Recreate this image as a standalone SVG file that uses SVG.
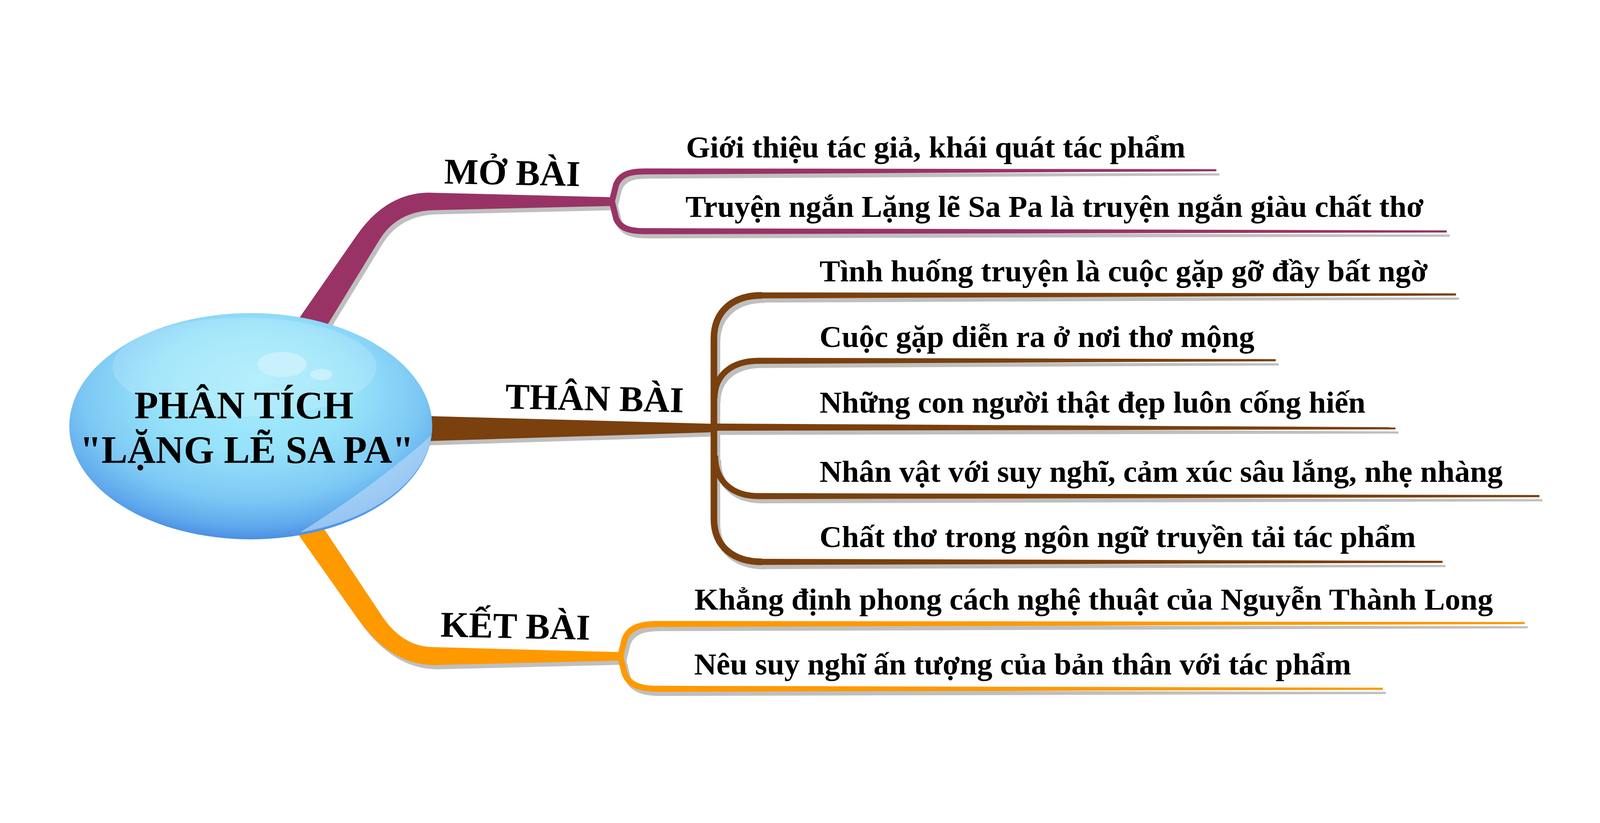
<svg xmlns="http://www.w3.org/2000/svg" xmlns:xlink="http://www.w3.org/1999/xlink" width="5334" height="2106" viewBox="0 0 5334 2106">
<style>
svg:root{width:100vw;height:100vh}
.t{font-family:"Liberation Serif","Times New Roman",serif;font-weight:bold;fill:#000}
.lf{font-size:103px}
.bl{font-size:121px}
.ct{font-size:130px}
.arm{fill:none;stroke-width:20;stroke-linejoin:round}
.nf{stroke:none}
</style>
<defs>
<radialGradient id="bub" cx="0.5" cy="0.38" r="0.62" fx="0.52" fy="0.3">
<stop offset="0" stop-color="#a8ecfd"/>
<stop offset="0.45" stop-color="#96e2fa"/>
<stop offset="0.75" stop-color="#7cc8f4"/>
<stop offset="0.92" stop-color="#5fa8ec"/>
<stop offset="1" stop-color="#4a8fe3"/>
</radialGradient>
<g id="moShape">
<path class="nf" d="M943,820 L1190,465 Q1291,320 1440,324 L2042,339 L2042,368 L1447,382 Q1324,385 1265,481 L1039,850 Z"/>
<path class="arm" d="M2040,353 L2054,297 C2068,262 2100,253 2150,253"/>
<path class="arm" d="M2040,353 L2054,410 C2068,444 2100,452 2150,452"/>
<path class="nf" d="M2148,243 L4055,245.5 L4055,252.5 L2148,263 Z"/>
<path class="nf" d="M2148,442 L4823,449.5 L4823,456.5 L2148,462 Z"/>
</g>
<g id="thShape">
<path class="nf" d="M1380,1067 L2380,1094 L2380,1122 L1380,1153 Z"/>
<path class="arm" style="stroke-width:22" d="M2380,1112 L2380,810 C2380,716 2446,666 2540,666"/>
<path class="arm" style="stroke-width:22" d="M2380,1100 L2380,1410 C2380,1504 2446,1554 2540,1554"/>
<path class="arm" d="M2382,1010 C2382,930 2440,884 2530,884"/>
<path class="arm" d="M2384,1200 C2384,1285 2440,1335 2530,1335"/>
<path class="nf" d="M2538,656 L4854,659.5 L4854,666.5 L2538,676 Z"/>
<path class="nf" d="M2528,874 L4253,878.5 L4253,885.5 L2528,894 Z"/>
<path class="nf" d="M2370,1093 L4652,1105.5 L4652,1112.5 L2370,1117 Z"/>
<path class="nf" d="M2528,1325 L5132,1331.5 L5132,1338.5 L2528,1345 Z"/>
<path class="nf" d="M2538,1544 L4809,1550.5 L4809,1557.5 L2538,1564 Z"/>
</g>
<g id="keShape">
<path class="nf" d="M1060,1414 L1270,1730 Q1340,1836 1440,1838 L2070,1855 L2070,1883 L1446,1898 Q1299,1896 1190,1740 L960,1414 Z"/>
<path class="arm" d="M2068,1869 L2082,1813 C2095,1776 2130,1761 2190,1761"/>
<path class="arm" d="M2068,1869 L2082,1925 C2095,1962 2130,1977 2190,1977"/>
<path class="nf" d="M2188,1751 L5083,1754.5 L5083,1761.5 L2188,1771 Z"/>
<path class="nf" d="M2188,1967 L4610,1973.5 L4610,1980.5 L2188,1987 Z"/>
</g>
</defs>
<rect width="5334" height="2106" fill="#fff"/>
<g id="connectors">
<use xlink:href="#moShape" href="#moShape" transform="translate(10,14)" fill="#bfbfbf" stroke="#bfbfbf"/>
<use xlink:href="#thShape" href="#thShape" transform="translate(10,14)" fill="#bfbfbf" stroke="#bfbfbf"/>
<use xlink:href="#keShape" href="#keShape" transform="translate(10,14)" fill="#bfbfbf" stroke="#bfbfbf"/>
<use xlink:href="#moShape" href="#moShape" fill="#993366" stroke="#993366"/>
<use xlink:href="#thShape" href="#thShape" fill="#7a400e" stroke="#7a400e"/>
<use xlink:href="#keShape" href="#keShape" fill="#ff9900" stroke="#ff9900"/>
</g>
<g id="center">
<ellipse cx="836" cy="1102" rx="605" ry="377" fill="url(#bub)"/>
<ellipse cx="815" cy="905" rx="440" ry="165" fill="#ffffff" opacity="0.16"/>
<path d="M1000,1456 Q1250,1300 1438,1132 A598,370 0 0 1 1000,1456 Z" fill="#b4d6f7" opacity="0.7"/>
<ellipse cx="940" cy="896" rx="82" ry="42" fill="#c8f1fd"/>
<ellipse cx="1071" cy="930" rx="37" ry="19" fill="#c8f1fd"/>
<text class="t ct" x="448" y="1075">PHÂN TÍCH</text>
<text class="t ct" x="266" y="1224">"LẶNG LẼ SA PA"</text>
</g>
<g id="mo-bai"><text class="t bl" x="1480" y="293" transform="rotate(1.1 1480 293)">MỞ BÀI</text></g>
<g id="than-bai"><text class="t bl" x="1684" y="1043" transform="rotate(1.2 1684 1043)">THÂN BÀI</text></g>
<g id="ket-bai"><text class="t bl" x="1468" y="1803" transform="rotate(1.2 1468 1803)">KẾT BÀI</text></g>
<g id="leaf-mo-1"><text class="t lf" x="2287" y="207">Giới thiệu tác giả, khái quát tác phẩm</text></g>
<g id="leaf-mo-2"><text class="t lf" x="2285" y="405">Truyện ngắn Lặng lẽ Sa Pa là truyện ngắn giàu chất thơ</text></g>
<g id="leaf-th-1"><text class="t lf" x="2732" y="619">Tình huống truyện là cuộc gặp gỡ đầy bất ngờ</text></g>
<g id="leaf-th-2"><text class="t lf" x="2732" y="838">Cuộc gặp diễn ra ở nơi thơ mộng</text></g>
<g id="leaf-th-3"><text class="t lf" x="2732" y="1057">Những con người thật đẹp luôn cống hiến</text></g>
<g id="leaf-th-4"><text class="t lf" x="2732" y="1287">Nhân vật với suy nghĩ, cảm xúc sâu lắng, nhẹ nhàng</text></g>
<g id="leaf-th-5"><text class="t lf" x="2732" y="1505">Chất thơ trong ngôn ngữ truyền tải tác phẩm</text></g>
<g id="leaf-ke-1"><text class="t lf" x="2315" y="1713">Khẳng định phong cách nghệ thuật của Nguyễn Thành Long</text></g>
<g id="leaf-ke-2"><text class="t lf" x="2314" y="1930">Nêu suy nghĩ ấn tượng của bản thân với tác phẩm</text></g>
</svg>
